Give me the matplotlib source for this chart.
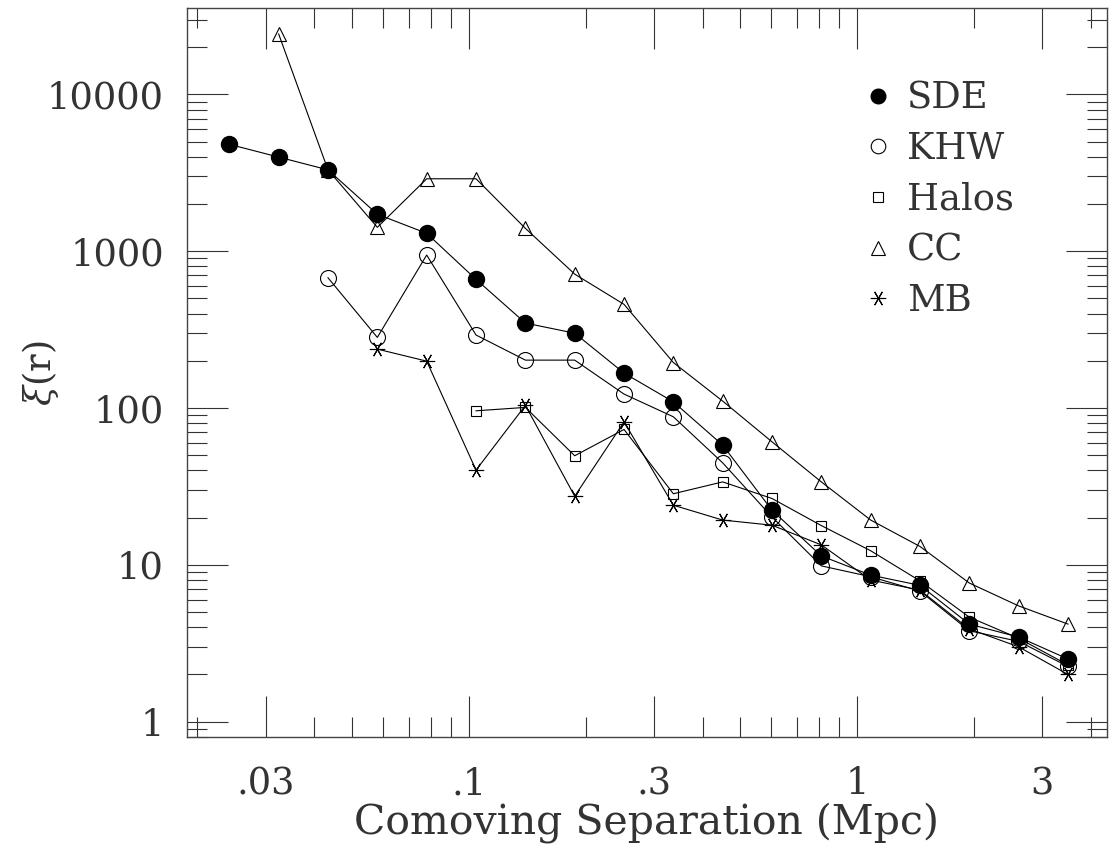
import numpy as np
import matplotlib
matplotlib.use("Agg")
import matplotlib.pyplot as plt
from matplotlib.ticker import FixedLocator, NullFormatter
from matplotlib.lines import Line2D

plt.rcParams['font.family'] = ['DejaVu Serif']
plt.rcParams['mathtext.fontset'] = 'dejavuserif'

# comoving separation bins (Mpc)
r = [0.02418, 0.03239, 0.04339, 0.05814, 0.0779, 0.1044, 0.1399, 0.1874, 0.2511,
     0.3364, 0.4507, 0.6037, 0.809, 1.084, 1.452, 1.945, 2.608, 3.493]

# xi(r) for each model; None = no point in that bin
sde = [4800, 3980, 3300, 1720, 1300, 661, 348, 300, 167, 109.5, 58, 22.3, 11.4, 8.6,
       7.4, 4.19, 3.46, 2.51]
khw = [None, None, 677, 282, 945, 292, 202, 202, 122.7, 87.9, 44.7, 20.2, 9.85, 8.4,
       6.8, 3.8, 3.25, 2.25]
halos = [None, None, None, None, None, 96, 100.9, 49.6, 73, 28.4, 33.8, 26.5, 17.8,
         12.3, 7.9, 4.64, 3.4, 2.3]
cc = [None, 24240, 3300, 1419, 2895, 2895, 1398, 714, 458, 195, 110.7, 60.9, 33.8,
      19.3, 13.1, 7.66, 5.47, 4.19]
mb = [None, None, None, 237.5, 199, 40.2, 104, 27.4, 81.6, 24.0, 19.3, 17.9, 13.4,
      8.0, 6.9, 3.9, 3.0, 2.0]

labels = ['SDE', 'KHW', 'Halos', 'CC', 'MB']
xticks = [0.03, 0.1, 0.3, 1, 3]
xticklabels = ['.03', '.1', '.3', '1', '3']
yticks = [1, 10, 100, 1000, 10000]
yticklabels = ['1', '10', '100', '1000', '10000']

txt_color = '#333333'

fig = plt.figure(figsize=(11.09, 8.47), dpi=100)
ax = fig.add_axes([0.1684, 0.1295, 0.8294, 0.8607])

styles = [
    dict(marker='o', ms=11.5, mfc='black', mec='black'),
    dict(marker='o', ms=11.5, mfc='none', mec='black', mew=0.8),
    dict(marker='s', ms=7.8, mfc='none', mec='black', mew=0.8),
    dict(marker='^', ms=9.5, mfc='none', mec='black', mew=0.8),
    dict(marker=(6, 2, 90), ms=11, mfc='none', mec='black', mew=0.8),
]

handles = []
for ys, lab, st in zip([sde, khw, halos, cc, mb], labels, styles):
    xs = [x for x, y in zip(r, ys) if y is not None]
    yv = [y for y in ys if y is not None]
    ax.plot(xs, yv, color='black', lw=0.8, **st)
    hst = dict(st)
    if hst['marker'] == 'o':
        hst['ms'] = 10.5
    handles.append(Line2D([], [], ls='none', **hst, label=lab))

ax.set_xscale('log')
ax.set_yscale('log')
ax.set_xlim(0.01878, 4.39)
ax.set_ylim(0.795, 35370)

ax.xaxis.set_major_locator(FixedLocator(xticks))
ax.set_xticklabels(xticklabels)
ax.yaxis.set_major_locator(FixedLocator(yticks))
ax.set_yticklabels(yticklabels)

xminor = [m * d for d in [0.01, 0.1, 1] for m in range(2, 10) if m != 3]
yminor = [m * d for d in [0.1, 1, 10, 100, 1000, 10000] for m in range(2, 10)]
ax.xaxis.set_minor_locator(FixedLocator(xminor))
ax.yaxis.set_minor_locator(FixedLocator(yminor))
ax.xaxis.set_minor_formatter(NullFormatter())
ax.yaxis.set_minor_formatter(NullFormatter())

ax.tick_params(which='both', direction='in', top=True, right=True,
               width=0.8, color='#333333', labelsize=26.5, labelcolor=txt_color)
ax.tick_params(which='major', length=29.5)
ax.tick_params(which='minor', length=14.5)
ax.tick_params(axis='y', pad=16.5)
ax.tick_params(axis='x', pad=21)

for sp in ax.spines.values():
    sp.set_linewidth(1.0)
    sp.set_color('#444444')

ax.set_xlabel('Comoving Separation (Mpc)', fontsize=29.5, color=txt_color, labelpad=0)
ax.set_ylabel(r'$\xi$(r)', fontsize=26.5, color=txt_color)
ax.yaxis.set_label_coords(-0.1365, 0.5)

ax.legend(handles=handles, loc='upper left', bbox_to_anchor=(0.7418, 0.901),
          frameon=False, fontsize=26.5, handlelength=0.5, handletextpad=0.53,
          labelspacing=0.40, borderpad=0, borderaxespad=0, labelcolor=txt_color)

fig.savefig('out.png', dpi=100)
